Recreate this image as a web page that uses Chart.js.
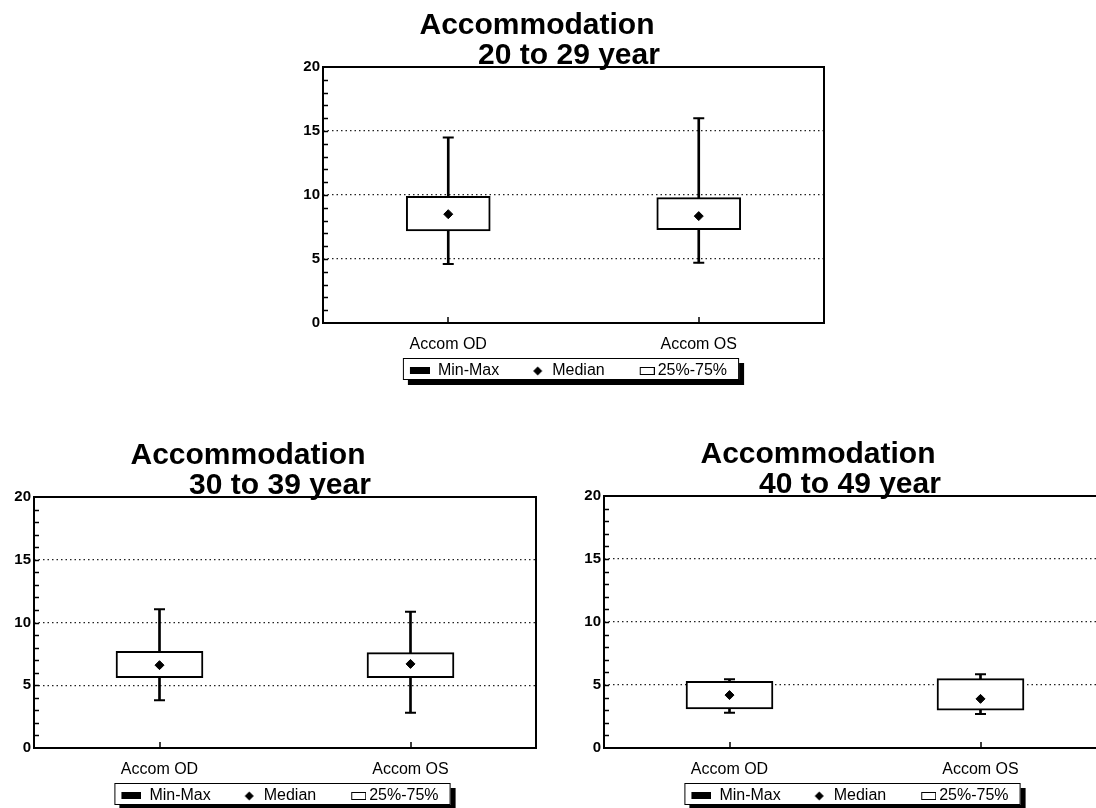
<!DOCTYPE html>
<html>
<head>
<meta charset="utf-8">
<title>Accommodation by age group</title>
<script src="https://cdn.jsdelivr.net/npm/chart.js@4.4.1/dist/chart.umd.min.js"></script>
<style>
  html, body { margin: 0; padding: 0; background: #fff; overflow: hidden; }
  body { width: 1096px; height: 808px; position: relative; }
  canvas { position: absolute; }
  #chart20 { left: 260px; top: 0px; }
  #chart30 { left: 0px; top: 440px; }
  #chart40 { left: 570px; top: 440px; }
</style>
</head>
<body>
<canvas id="chart20" width="600" height="389"></canvas>
<canvas id="chart30" width="580" height="374"></canvas>
<canvas id="chart40" width="560" height="374"></canvas>
<script>
// categories and tick labels
const categories = ['Accom OD', 'Accom OS'];
const yTicks = [0, 5, 10, 15, 20];
const legendNames = ['Min-Max', 'Median', '25%-75%'];

// 20 to 29 year
const min20 = [4.6, 4.7];
const q1of20 = [7.2, 7.3];
const med20 = [8.5, 8.35];
const q3of20 = [9.9, 9.8];
const max20 = [14.5, 16.0];

// 30 to 39 year
const min30 = [3.8, 2.8];
const q1of30 = [5.6, 5.6];
const med30 = [6.6, 6.7];
const q3of30 = [7.7, 7.6];
const max30 = [11.05, 10.85];

// 40 to 49 year
const min40 = [2.8, 2.7];
const q1of40 = [3.1, 3.0];
const med40 = [4.2, 3.9];
const q3of40 = [5.3, 5.5];
const max40 = [5.45, 5.85];

const FONT = '"Liberation Sans", Arial, Helvetica, sans-serif';
Chart.defaults.font.family = FONT;
Chart.defaults.color = '#000';

/**
 * Small canvases used as legend symbols (drawn centred on a 38px legend box)
 */
function makeIcon(w, h, draw) {
    const c = document.createElement('canvas');
    c.width = w;
    c.height = h;
    draw(c.getContext('2d'));
    return c;
}

const iconMinMax = makeIcon(38, 8, ctx => {
    ctx.fillStyle = '#000';
    ctx.fillRect(18, 0, 20, 7);
});
const iconMedian = makeIcon(38, 10, ctx => {
    ctx.fillStyle = '#000';
    ctx.beginPath();
    ctx.moveTo(31.5, 0.5);
    ctx.lineTo(36, 5);
    ctx.lineTo(31.5, 9.5);
    ctx.lineTo(27, 5);
    ctx.closePath();
    ctx.fill();
});
const iconBox = makeIcon(48, 10, ctx => {
    ctx.fillStyle = '#fff';
    ctx.fillRect(33, 1, 15, 8);
    ctx.strokeStyle = '#000';
    ctx.lineWidth = 1;
    ctx.strokeRect(33.5, 1.5, 14, 7);
});
const legendIcons = [iconMinMax, iconMedian, iconBox];

/**
 * Plot frame, minor ticks, two-line title and legend frame
 */
const decorPlugin = {
    id: 'decor',
    beforeDraw(chart) {
        const boxes = chart.legend && chart.legend.legendHitBoxes;
        if (!boxes || !boxes.length) return;
        const first = boxes[0];
        const last = boxes[boxes.length - 1];
        const left = first.left + 11;
        const right = last.left + last.width + 12;
        const top = first.top - 5;
        const bottom = first.top + first.height + 1;
        const ctx = chart.ctx;
        ctx.save();
        ctx.fillStyle = '#000';
        ctx.fillRect(left + 5, top + 5, right - left, bottom - top);
        ctx.fillStyle = '#fff';
        ctx.fillRect(left, top, right - left, bottom - top);
        ctx.strokeStyle = '#000';
        ctx.lineWidth = 1;
        ctx.strokeRect(left + 0.5, top + 0.5, right - left - 1, bottom - top - 1);
        ctx.restore();
    },
    afterDraw(chart, args, opts) {
        const ctx = chart.ctx;
        const area = chart.chartArea;
        const yScale = chart.scales.y;
        const xScale = chart.scales.x;
        ctx.save();

        // minor ticks on the value axis
        ctx.strokeStyle = '#000';
        ctx.lineWidth = 1.5;
        for (let v = 1; v < 20; v++) {
            const py = Math.round(yScale.getPixelForValue(v)) + 0.5;
            ctx.beginPath();
            ctx.moveTo(area.left, py);
            ctx.lineTo(area.left + 5, py);
            ctx.stroke();
        }
        // category ticks
        categories.forEach((c, i) => {
            const px = Math.round(xScale.getPixelForValue(i));
            ctx.beginPath();
            ctx.moveTo(px, area.bottom);
            ctx.lineTo(px, area.bottom - 6);
            ctx.stroke();
        });

        // plot frame
        ctx.lineWidth = 2;
        ctx.strokeRect(area.left, area.top, area.right - area.left, area.bottom - area.top);

        // title
        ctx.fillStyle = '#000';
        ctx.font = 'bold 30px ' + FONT;
        ctx.textAlign = 'center';
        ctx.textBaseline = 'alphabetic';
        ctx.fillText('Accommodation', area.left + 214, area.top - 33);
        ctx.fillText(opts.subtitle, area.left + 246, area.top - 3);
        ctx.restore();
    }
};

function buildChart(id, subtitle, mins, q1s, meds, q3s, maxs, boxWidth, padding) {
    const ctx = document.getElementById(id);
    return new Chart(ctx, {
        type: 'bar',
        data: {
            labels: categories,
            datasets: [
                {
                    type: 'line',
                    label: 'Median',
                    data: meds,
                    showLine: false,
                    pointStyle: 'rectRot',
                    pointRadius: 4.5,
                    backgroundColor: '#000',
                    borderColor: '#000',
                    borderWidth: 1,
                    order: 1
                },
                {
                    type: 'line',
                    label: 'Max',
                    data: maxs,
                    showLine: false,
                    pointStyle: 'line',
                    pointRadius: 5.5,
                    borderColor: '#000',
                    borderWidth: 2,
                    order: 2
                },
                {
                    type: 'line',
                    label: 'Min',
                    data: mins,
                    showLine: false,
                    pointStyle: 'line',
                    pointRadius: 5.5,
                    borderColor: '#000',
                    borderWidth: 2,
                    order: 2
                },
                {
                    label: '25%-75%',
                    data: q1s.map((q, i) => [q, q3s[i]]),
                    backgroundColor: '#fff',
                    borderColor: '#000',
                    borderWidth: 2,
                    borderSkipped: false,
                    barThickness: boxWidth,
                    grouped: false,
                    order: 3
                },
                {
                    label: 'Min-Max',
                    data: mins.map((m, i) => [m, maxs[i]]),
                    backgroundColor: '#000',
                    borderWidth: 0,
                    barThickness: 2,
                    grouped: false,
                    order: 4
                }
            ]
        },
        options: {
            responsive: false,
            animation: false,
            events: [],
            layout: { padding: padding },
            scales: {
                x: {
                    type: 'category',
                    offset: true,
                    grid: { display: false, drawTicks: false },
                    border: { display: false },
                    ticks: { font: { size: 16, lineHeight: 1 }, color: '#000', padding: 14, maxRotation: 0 },
                    afterFit(scale) { scale.height = 33; }
                },
                y: {
                    type: 'linear',
                    position: 'left',
                    min: 0,
                    max: 20,
                    afterBuildTicks(scale) { scale.ticks = yTicks.map(v => ({ value: v })); },
                    ticks: { font: { size: 15, weight: 'bold' }, color: '#000', padding: 3 },
                    grid: {
                        drawTicks: false,
                        lineWidth: 1.2,
                        color: c => (c.tick && c.tick.value > 0 && c.tick.value < 20) ? '#222' : 'rgba(0,0,0,0)'
                    },
                    border: { display: false, dash: [1.5, 3] },
                    afterFit(scale) { scale.width = 30; }
                },
                y2: {
                    type: 'linear',
                    position: 'right',
                    display: true,
                    ticks: { display: false },
                    grid: { display: false, drawTicks: false },
                    border: { display: false },
                    afterFit(scale) { scale.width = 2; }
                }
            },
            plugins: {
                legend: {
                    position: 'bottom',
                    onClick: null,
                    labels: {
                        usePointStyle: true,
                        pointStyleWidth: 38,
                        boxHeight: 15,
                        padding: 7,
                        font: { size: 16 },
                        color: '#000',
                        generateLabels: () => legendNames.map((name, i) => ({
                            text: name,
                            pointStyle: legendIcons[i],
                            fillStyle: '#000',
                            strokeStyle: '#000',
                            lineWidth: 0,
                            hidden: false,
                            datasetIndex: i
                        }))
                    }
                },
                tooltip: { enabled: false },
                decor: { subtitle: subtitle }
            }
        },
        plugins: [decorPlugin]
    });
}

buildChart('chart20', '20 to 29 year', min20, q1of20, med20, q3of20, max20, 84,
    { left: 33, right: 34, top: 67, bottom: 0 });
buildChart('chart30', '30 to 39 year', min30, q1of30, med30, q3of30, max30, 87,
    { left: 4, right: 42, top: 57, bottom: 0 });
buildChart('chart40', '40 to 49 year', min40, q1of40, med40, q3of40, max40, 87,
    { left: 4, right: 22, top: 56, bottom: 0 });
</script>
</body>
</html>
